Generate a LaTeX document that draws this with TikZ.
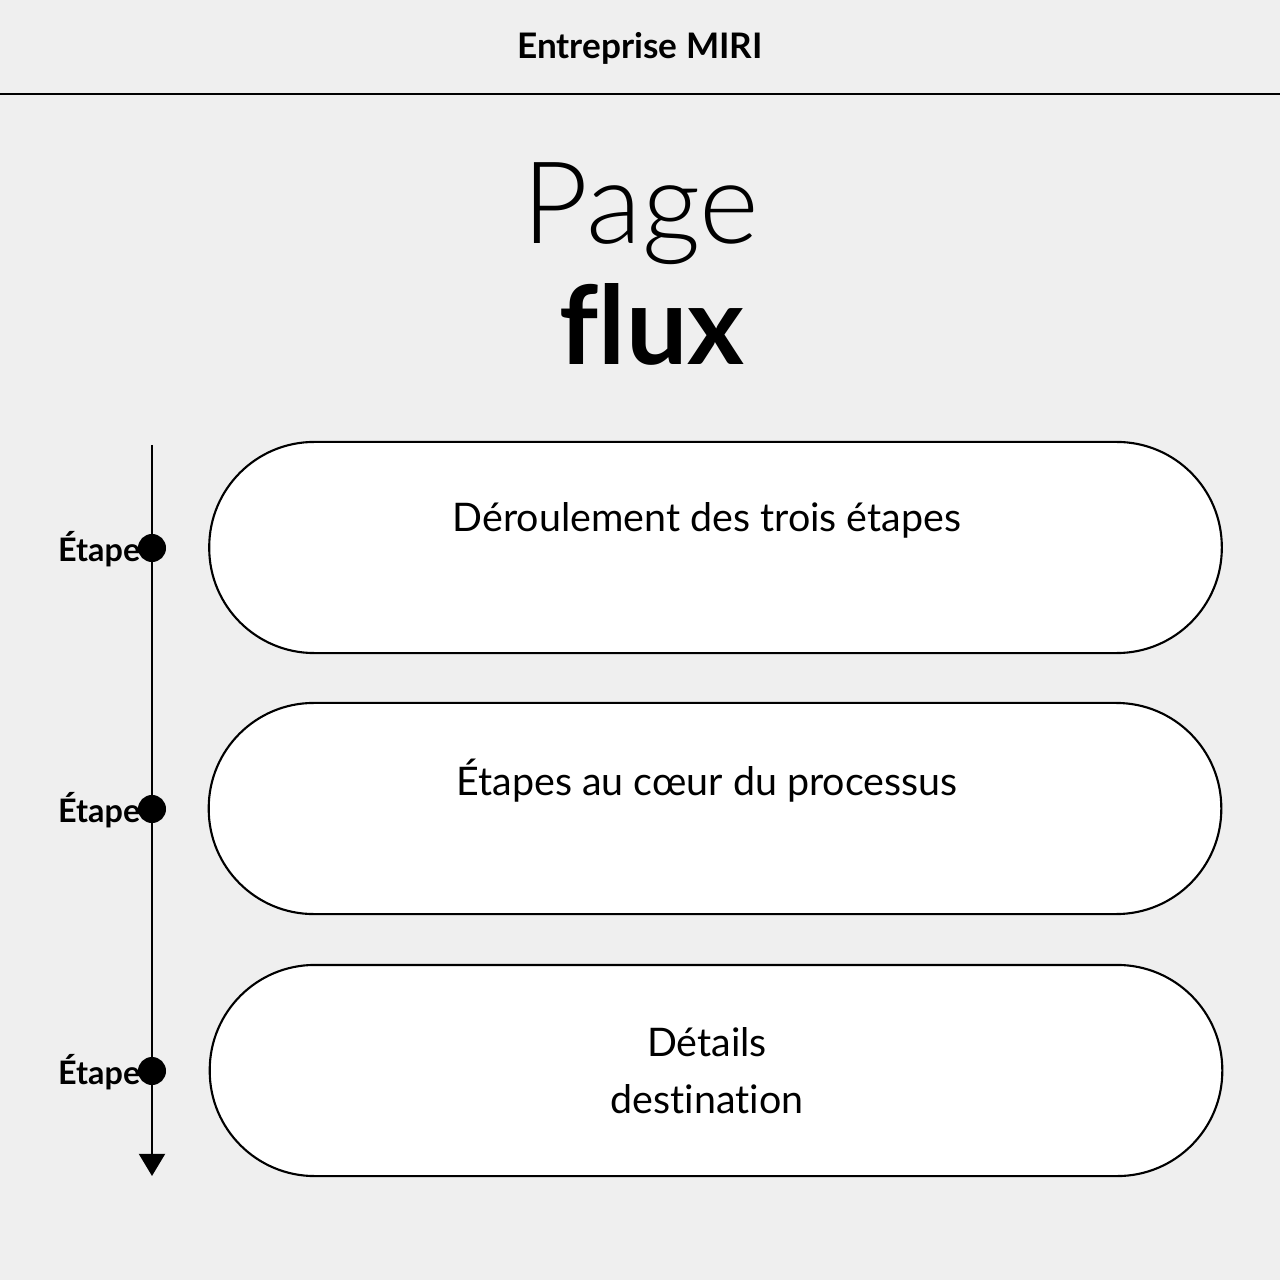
\documentclass[tikz,border=0pt]{standalone}
\usepackage{fontspec}
\setmainfont{Lato}[Ligatures=NoCommon]
\newfontfamily\thinfont{Lato Light}[Ligatures=NoCommon]
\usepackage{tikz}
\usetikzlibrary{arrows.meta, positioning}
\definecolor{paper}{HTML}{EFEFEF}

\begin{document}
\begin{tikzpicture}[x=0.01cm,y=-0.01cm,>={Triangle[width=7.4pt,length=6.3pt]}]
	\fill[paper] (0,0) rectangle (1280,1280);
	\useasboundingbox (0,0) rectangle (1280,1280);

	\tikzset{capsule/.style={draw,fill=white,line width=0.6pt,rounded corners=1.05cm,
			minimum width=10.12cm,minimum height=2.11cm,inner sep=0pt}}
	\tikzset{boxtext/.style={font=\fontsize{11.2}{16.2}\selectfont,align=center,inner sep=0pt}}
	\tikzset{dot/.style={circle,fill=black,minimum size=0.28cm,inner sep=0pt}}
	\tikzset{steplabel/.style={font=\bfseries\fontsize{9.2}{10}\selectfont,inner sep=0pt,anchor=east}}

	% en-tete
	\node[font=\bfseries\fontsize{10}{12}\selectfont] (H) at (640,48) {Entreprise MIRI};
	\coordinate (L0) at (0,94);
	\coordinate (L1) at (1280,94);
	\draw[line width=0.6pt] (L0) -- (L1);

	\node[font=\thinfont\fontsize{32.5}{36}\selectfont,anchor=base] (P) at (641,244) {Page};
	\node[font=\bfseries\fontsize{31}{36}\selectfont,anchor=base] (F) at (652,365) {flux};

	% axe
	\coordinate (A0) at (152,445);
	\coordinate (A1) at (152,1176);
	\draw[->,line width=0.6pt] (A0) -- (A1);

	\node[capsule] (B1) at (715.5,547.5) {};
	\node[capsule] (B2) at (715,808.5) {};
	\node[capsule] (B3) at (716,1070.5) {};

	\node[boxtext] (T1) at (707,520) {Déroulement des trois étapes};
	\node[boxtext] (T2) at (707,781) {Étapes au cœur du processus};
	\node[boxtext] (T3) at (707,1071) {Détails\\destination};

	\node[dot] (D1) at (152,548) {};
	\node[dot] (D2) at (152,809) {};
	\node[dot] (D3) at (152,1071) {};

	\node[steplabel] (E1) at (141,549) {Étape};
	\node[steplabel] (E2) at (141,810) {Étape};
	\node[steplabel] (E3) at (141,1072) {Étape};
\end{tikzpicture}
\end{document}
